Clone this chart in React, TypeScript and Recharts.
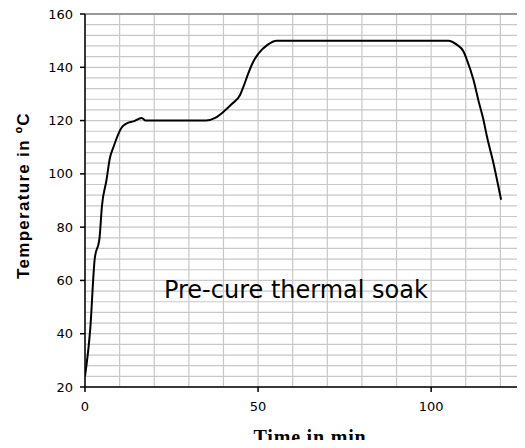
import React from 'react';
import { LineChart, Line, XAxis, YAxis, CartesianGrid, ReferenceLine, ReferenceDot, Label } from 'recharts';

// Time (min) and temperature (°C)
const timeMin = [0, 1.5, 2.8, 4.2, 4.9, 6.2, 7.2, 8.2, 10.6, 12, 14, 16.4, 17.5, 35, 37.6, 40, 42.4, 44.8, 45.8, 47.2, 48.5, 50.1, 52.7, 55.4, 105, 107.4, 109.3, 110.3, 112.2, 113.7, 115.1, 116.1, 118, 120.2];
const tempC = [24, 41.5, 68, 76, 88, 97.6, 106, 110, 117.4, 118.9, 119.7, 121, 120, 120, 121, 123.3, 126.2, 129.6, 132.8, 137.8, 141.8, 145.1, 148.4, 150, 150, 148.5, 146, 142.9, 135.4, 127.3, 120.3, 114.1, 104, 90.3];

const xTicks = [0, 50, 100];
const yTicks = [20, 40, 60, 80, 100, 120, 140, 160];
const xDomain = [0, 130];
const yDomain = [20, 160];
const xGridValues = [0, 10, 20, 30, 40, 50, 60, 70, 80, 90, 100, 110, 120, 130];
const yGridValues = [20, 24, 28, 32, 36, 40, 44, 48, 52, 56, 60, 64, 68, 72, 76, 80, 84, 88, 92, 96, 100, 104, 108, 112, 116, 120, 124, 128, 132, 136, 140, 144, 148, 152, 156, 160];

const xTitle = 'Time in min';
const yTitle = 'Temperature in ºC';
const annotation = 'Pre-cure thermal soak';

const data = timeMin.map((t, i) => ({ t, temp: tempC[i] }));

const tickStyle = { fontFamily: 'DejaVu Sans', fontSize: 13, fill: '#000' };

const XTitle = (props: any) => {
  const vb = props.viewBox || { x: 85, y: 387, width: 450, height: 61 };
  return (
    <text x={vb.x + vb.width / 2} y={vb.y + 57} textAnchor="middle" fontFamily="Liberation Serif" fontWeight="bold" fontSize={20} letterSpacing={0.8} fill="#000">
      {xTitle}
    </text>
  );
};

const YTitle = (props: any) => {
  const vb = props.viewBox || { x: 0, y: 14, width: 85, height: 373 };
  const cx = vb.x + 29;
  const cy = vb.y + vb.height / 2 - 5;
  return (
    <text x={cx} y={cy} transform={`rotate(-90, ${cx}, ${cy})`} textAnchor="middle" fontFamily="Liberation Sans" fontWeight="bold" fontSize={17} letterSpacing={1.3} fill="#000">
      {yTitle}
    </text>
  );
};

const Annotation = (props: any) => {
  const vb = props.viewBox || { x: 0, y: 0 };
  return (
    <text x={vb.x} y={vb.y} fontFamily="DejaVu Sans" fontSize={24} fill="#000">
      {annotation}
    </text>
  );
};

const applyScale = (axis: any, v: number): number | undefined => {
  const s = axis?.scale;
  if (typeof s === 'function') return s(v);
  if (s && typeof s.map === 'function') return s.map(v);
  if (s && typeof s.scale === 'function') return s.scale(v);
  return undefined;
};

const hGen = (props: any) => {
  const off = props?.offset || {};
  return yGridValues.map((v) => {
    const p = applyScale(props?.yAxis, v);
    if (typeof p === 'number' && !isNaN(p)) return p;
    return off.top + (off.height * (yDomain[1] - v)) / (yDomain[1] - yDomain[0]);
  });
};

const vGen = (props: any) => {
  const off = props?.offset || {};
  return xGridValues.map((v) => {
    const p = applyScale(props?.xAxis, v);
    if (typeof p === 'number' && !isNaN(p)) return p;
    return off.left + (off.width * (v - xDomain[0])) / (xDomain[1] - xDomain[0]);
  });
};

export default function App() {
  return (
    <div style={{ margin: -8, width: 525, height: 448, overflow: 'hidden', background: '#fff' }}>
      <LineChart width={560} height={448} data={data} margin={{ top: 14, right: 25, bottom: 0, left: 0 }}>
        <CartesianGrid
          stroke="#c8c8c8"
          strokeWidth={1.2}
          horizontalCoordinatesGenerator={hGen}
          verticalCoordinatesGenerator={vGen}
        />
        <XAxis
          type="number"
          dataKey="t"
          domain={xDomain}
          ticks={xTicks}
          height={61}
          tickSize={5}
          tickMargin={10}
          tick={tickStyle}
          axisLine={{ stroke: '#000', strokeWidth: 1.5 }}
          tickLine={{ stroke: '#000', strokeWidth: 1.5 }}
          allowDataOverflow
        >
          <Label content={XTitle} />
        </XAxis>
        <YAxis
          type="number"
          domain={yDomain}
          ticks={yTicks}
          width={85}
          tickSize={5}
          tickMargin={7}
          tick={tickStyle}
          axisLine={{ stroke: '#000', strokeWidth: 1.5 }}
          tickLine={{ stroke: '#000', strokeWidth: 1.5 }}
          allowDataOverflow
        >
          <Label content={YTitle} />
        </YAxis>
        <ReferenceLine y={160} stroke="#999" strokeWidth={2} />
        <ReferenceDot x={22.8} y={53.4} r={0} fill="none" stroke="none" label={<Annotation />} />
        <Line type="monotone" dataKey="temp" stroke="#000" strokeWidth={2} dot={false} isAnimationActive={false} />
      </LineChart>
    </div>
  );
}
